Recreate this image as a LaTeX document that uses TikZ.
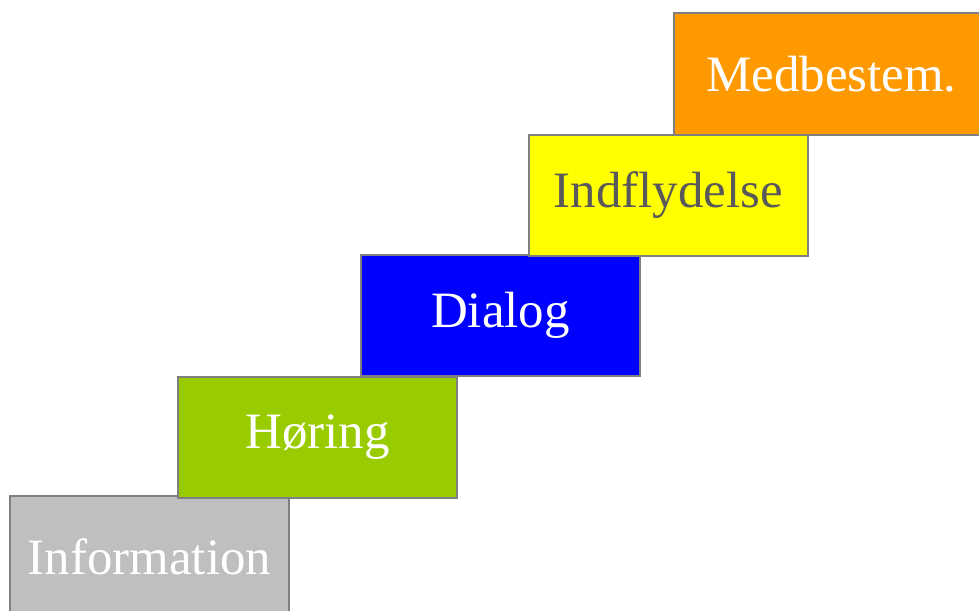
\documentclass[tikz,border=0pt]{standalone}
\usepackage{fontspec}
\setmainfont{Liberation Serif}
\usetikzlibrary{positioning}
\definecolor{stepgray}{HTML}{BFBFBF}
\definecolor{stepgreen}{HTML}{99CC00}
\definecolor{stepblue}{HTML}{0000FF}
\definecolor{stepyellow}{HTML}{FFFF00}
\definecolor{steporange}{HTML}{FF9900}
\definecolor{edgegray}{HTML}{7F7F7F}
\definecolor{textgray}{HTML}{595959}
\tikzset{
  stepbox/.style={draw=edgegray,line width=1.1pt,anchor=north west,
    minimum width=5.58cm,minimum height=2.42cm,inner sep=0pt,
    text=white,font=\fontsize{29}{35}\selectfont}
}
\begin{document}
\begin{tikzpicture}[x=0.02cm,y=-0.02cm]
    \useasboundingbox (0,0) rectangle (979,611);
    \node[stepbox,fill=stepgray] (info) at (9,495) {Information};
    \node[stepbox,fill=stepgreen] (horing) at (177,376) {Høring};
    \node[stepbox,fill=stepblue] (dialog) at (360,254) {Dialog};
    \node[stepbox,fill=stepyellow,text=textgray] (indfl) at (528,134) {Indflydelse};
    \node[stepbox,fill=steporange,minimum width=6.3cm,minimum height=2.44cm] (medbest) at (673,12) {Medbestem.};
  \end{tikzpicture}
\end{document}
